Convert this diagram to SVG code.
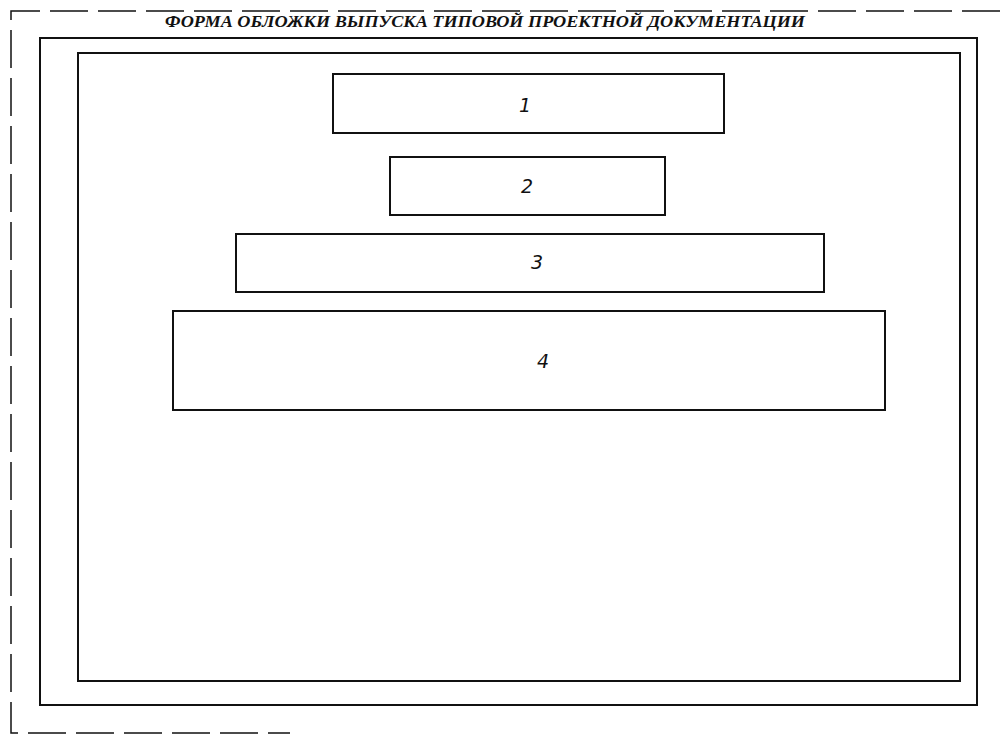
<svg xmlns="http://www.w3.org/2000/svg" width="1000" height="735" viewBox="0 0 1000 735">
<style>
.dash{fill:none;stroke:#111;stroke-width:1.5;stroke-dasharray:38 10}
.frame{fill:none;stroke:#111;stroke-width:2}
.box{fill:#fff;stroke:#111;stroke-width:2}
.num{font-family:"DejaVu Sans","Liberation Sans",sans-serif;font-style:italic;font-size:19px;fill:#111;text-anchor:middle}
.title{font-family:"Liberation Serif",serif;font-style:italic;font-weight:bold;font-size:16px;fill:#111}
</style>
<rect width="1000" height="735" fill="#fff"/>
<g id="cut-line">
<path class="dash" d="M1000,11 H11 V733 H290"/>
</g>
<text class="title" x="165" y="27" textLength="640" lengthAdjust="spacingAndGlyphs">ФОРМА ОБЛОЖКИ ВЫПУСКА ТИПОВОЙ ПРОЕКТНОЙ ДОКУМЕНТАЦИИ</text>
<g id="outer-frame"><rect class="frame" x="40" y="38" width="937" height="667"/></g>
<g id="inner-frame"><rect class="frame" x="78" y="53" width="882" height="628"/></g>
<g id="node1"><rect class="box" x="333" y="74" width="391" height="59"/><text class="num" x="525" y="112">1</text></g>
<g id="node2"><rect class="box" x="390" y="157" width="275" height="58"/><text class="num" x="527" y="193">2</text></g>
<g id="node3"><rect class="box" x="236" y="234" width="588" height="58"/><text class="num" x="537" y="269">3</text></g>
<g id="node4"><rect class="box" x="173" y="311" width="712" height="99"/><text class="num" x="543" y="368">4</text></g>
<g id="connectors"></g>
</svg>
